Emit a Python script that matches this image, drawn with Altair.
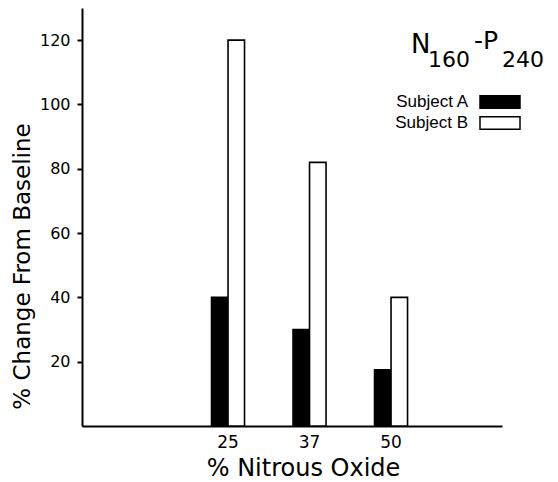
import altair as alt
import pandas as pd

# ---- data ----
doses = ["25", "37", "50"]
subjects = ["Subject A", "Subject B"]
subject_a = [40, 30, 17.5]
subject_b = [120, 82, 40]
y_ticks = [20, 40, 60, 80, 100, 120]
title_parts = ["N", "160", "-P", "240"]

rows = []
for d, a, b in zip(doses, subject_a, subject_b):
    rows.append({"dose": d, "subject": subjects[0], "value": a})
    rows.append({"dose": d, "subject": subjects[1], "value": b})
df = pd.DataFrame(rows)

FONT = "DejaVu Sans"
x_domain = [""] + doses  # one empty slot on the left for the wide left margin

bars = alt.Chart(df).mark_bar(stroke="black", strokeWidth=1.6).encode(
    x=alt.X(
        "dose:N",
        scale=alt.Scale(domain=x_domain, paddingInner=0.595, paddingOuter=0.874, align=0.337),
        axis=alt.Axis(
            title="% Nitrous Oxide",
            labelAngle=0,
            ticks=False,
            labelPadding=8,
            labelFontSize=17,
            labelFont=FONT,
            labelColor="black",
            domainColor="black",
            domainWidth=2,
            titleFont=FONT,
            titleFontSize=24,
            titleFontWeight="normal",
            titleColor="black",
            titleX=221,
            titleY=49,
            titleBaseline="alphabetic",
            titleAlign="center",
            grid=False,
        ),
    ),
    xOffset=alt.XOffset("subject:N", sort=subjects,
                        scale=alt.Scale(domain=subjects, paddingInner=0, paddingOuter=0)),
    y=alt.Y(
        "value:Q",
        scale=alt.Scale(domain=[0, 130], nice=False, zero=True),
        axis=alt.Axis(
            title="% Change From Baseline",
            values=y_ticks,
            tickSize=5,
            tickWidth=2,
            tickColor="black",
            labelPadding=7,
            labelFontSize=16,
            labelFont=FONT,
            labelColor="black",
            domainColor="black",
            domainWidth=2,
            titleFont=FONT,
            titleFontSize=23,
            titleFontWeight="normal",
            titleColor="black",
            titleX=-53,
            titleY=258,
            titleBaseline="alphabetic",
            titleAlign="center",
            grid=False,
        ),
    ),
    color=alt.Color(
        "subject:N",
        scale=alt.Scale(domain=subjects, range=["black", "white"]),
        legend=alt.Legend(
            title=None,
            orient="none",
            legendX=407,
            legendY=83,
            padding=0,
            symbolType="M-2,-0.62L2,-0.62L2,0.62L-2,0.62Z",
            symbolSize=400,
            symbolStrokeColor="black",
            symbolStrokeWidth=1.5,
            symbolOffset=0,
            labelAlign="right",
            labelOffset={"expr": "-43"},
            labelFont="Liberation Sans",
            labelFontSize=17,
            labelColor="black",
            rowPadding=0,
        ),
    ),
)

positions = [(329, 45, 26), (346, 59, 22), (392, 41, 25), (420, 59, 22)]
texts = []
for part, (px, py, fs) in zip(title_parts, positions):
    texts.append(
        alt.Chart(pd.DataFrame({"t": [part]})).mark_text(
            align="left", baseline="alphabetic", font=FONT, fontSize=fs, color="black"
        ).encode(text="t:N", x=alt.value(px), y=alt.value(py))
    )

chart = alt.layer(bars, *texts).properties(
    width=420,
    height=418,
    autosize=alt.AutoSizeParams(type="none"),
    padding={"left": 74, "top": 0, "right": 48, "bottom": 56},
    background="white",
).configure_view(stroke=None)

chart.save("out.html", embed_options={"renderer": "svg", "actions": False})
